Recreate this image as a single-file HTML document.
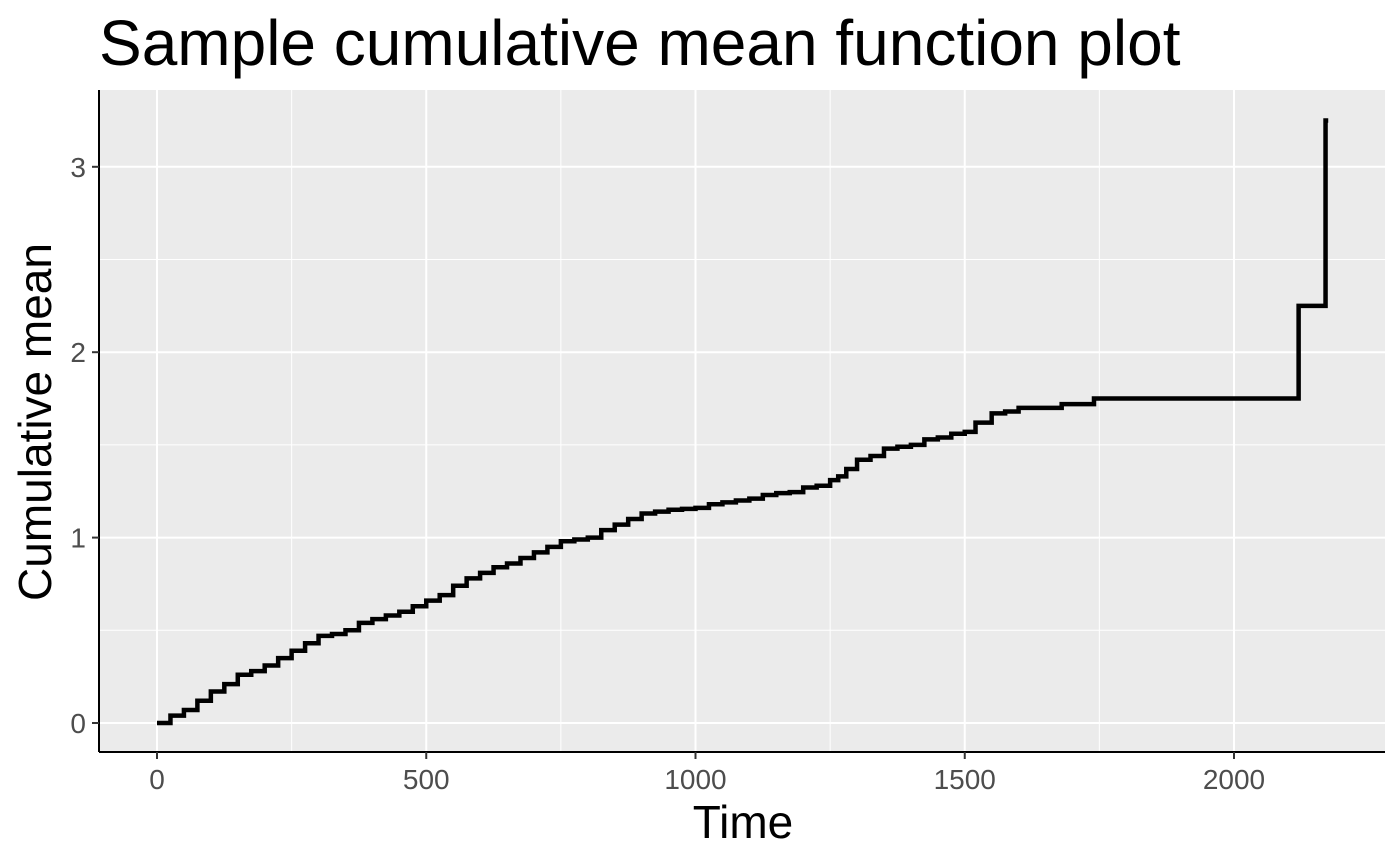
<!DOCTYPE html>
<html><head><meta charset="utf-8"><style>
body{margin:0;background:#fff;}
svg{display:block;font-family:"Liberation Sans",sans-serif;}
</style></head><body>
<svg id="chart" width="1400" height="865">
<text x="99" y="65" font-size="64" fill="#000">Sample cumulative mean function plot</text>
<rect x="99" y="90" width="1286" height="662" fill="#ebebeb"/>
<g id="grid"></g>
<g id="series"></g>
<line x1="99" y1="90" x2="99" y2="752" stroke="#000" stroke-width="2"/>
<line x1="99" y1="752" x2="1385" y2="752" stroke="#000" stroke-width="2"/>
<g id="ticks"></g>
<text x="743" y="838" font-size="46" text-anchor="middle">Time</text>
<text transform="translate(51,422) rotate(-90)" font-size="46" text-anchor="middle">Cumulative mean</text>
</svg>
<script>
const times=[0,25,50,75,100,125,150,175,200,225,250,275,300,325,350,375,400,425,450,475,500,525,550,575,600,625,650,675,700,725,750,775,800,825,850,875,900,925,950,975,1000,1025,1050,1075,1100,1125,1150,1175,1200,1225,1250,1265,1280,1300,1325,1350,1375,1400,1425,1450,1475,1500,1520,1550,1575,1600,1680,1740,2120,2170,2175];
const means=[0,0.04,0.07,0.12,0.17,0.21,0.26,0.28,0.31,0.35,0.39,0.43,0.47,0.48,0.5,0.54,0.56,0.58,0.6,0.63,0.66,0.69,0.74,0.78,0.81,0.84,0.86,0.89,0.92,0.95,0.98,0.99,1.0,1.04,1.07,1.1,1.13,1.14,1.15,1.155,1.16,1.18,1.19,1.2,1.21,1.23,1.24,1.245,1.27,1.28,1.31,1.33,1.37,1.42,1.44,1.48,1.49,1.5,1.53,1.54,1.56,1.57,1.62,1.67,1.68,1.7,1.72,1.75,2.25,3.25,3.25];
const xTicks=[0,500,1000,1500,2000];
const yTicks=[0,1,2,3];
const xMinor=[250,750,1250,1750];
const yMinor=[0.5,1.5,2.5];
const NS="http://www.w3.org/2000/svg";
const X=v=>157+v*0.5385;
const Y=v=>723-v*185.4;
function mk(tag,attrs,parent){const e=document.createElementNS(NS,tag);for(const k in attrs)e.setAttribute(k,attrs[k]);parent.appendChild(e);return e;}
const grid=document.getElementById('grid'),ticks=document.getElementById('ticks'),series=document.getElementById('series');
xMinor.forEach(v=>{const l=mk('line',{x1:X(v),x2:X(v),y1:90,y2:752,stroke:'#fff','stroke-width':1},grid);

});
yMinor.forEach(v=>{const l=mk('line',{x1:99,x2:1385,y1:Y(v),y2:Y(v),stroke:'#fff','stroke-width':1},grid);

});
xTicks.forEach(v=>{const l=mk('line',{x1:X(v),x2:X(v),y1:90,y2:752,stroke:'#fff','stroke-width':2},grid);


const t=mk('line',{x1:X(v),x2:X(v),y1:752,y2:759,stroke:'#333','stroke-width':2},ticks);


const tx=mk('text',{x:X(v),y:789,'font-size':28,fill:'#4d4d4d','text-anchor':'middle'},ticks);tx.textContent=v;

});
yTicks.forEach(v=>{const l=mk('line',{x1:99,x2:1385,y1:Y(v),y2:Y(v),stroke:'#fff','stroke-width':2},grid);


const t=mk('line',{x1:92,x2:99,y1:Y(v),y2:Y(v),stroke:'#333','stroke-width':2},ticks);


const tx=mk('text',{x:86,y:Y(v)+10,'font-size':28,fill:'#4d4d4d','text-anchor':'end'},ticks);tx.textContent=v;

});
let d='M'+X(times[0])+','+Y(means[0]);
for(let i=1;i<times.length;i++){d+=' H'+X(times[i])+' V'+Y(means[i]);}
const p=mk('path',{d:d,fill:'none',stroke:'#000','stroke-width':4.5},series);


</script>
</body></html>
